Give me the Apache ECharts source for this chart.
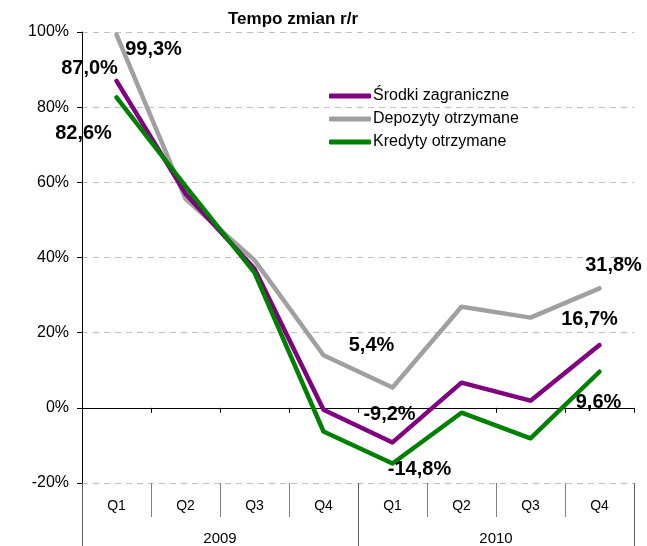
<!DOCTYPE html>
<html>
<head>
<meta charset="utf-8">
<script src="https://cdn.jsdelivr.net/npm/echarts@6/dist/echarts.min.js"></script>
<style>
  html, body { margin: 0; padding: 0; background: #fff; }
  #chart { width: 647px; height: 546px; }
</style>
</head>
<body>
<div id="chart"></div>
<script>
// --- dane ---
const quarters = ['Q1', 'Q2', 'Q3', 'Q4', 'Q1', 'Q2', 'Q3', 'Q4']
const years = ['2009', '2010']
const srodki = [87.0, 57.0, 37.0, -0.5, -9.2, 6.7, 1.9, 16.7]
const depozyty = [99.3, 55.6, 39.3, 14.0, 5.4, 26.9, 24.0, 31.8]
const kredyty = [82.6, 59.0, 36.0, -6.3, -14.8, -1.3, -8.1, 9.6]
const yTicks = [-20, 0, 20, 40, 60, 80, 100]

// --- etykiety punktów: indeks -> przesunięcie [dx, dy] od punktu ---
const srodkiLabels = { 0: [-27, -12], 4: [-3, -28], 7: [-10, -26] }
const depozytyLabels = { 0: [37, 15], 4: [-21, -42], 7: [14, -23] }
const kredytyLabels = { 0: [-33, 36], 4: [27, 6], 7: [-1, 31] }

const fmt = (v) => v.toFixed(1).replace('.', ',') + '%'

const buildData = (values, labels) =>
  values.map((v, i) => {
    if (!labels[i]) return v
    return {
      value: v,
      label: {
        show: true,
        position: 'inside',
        offset: labels[i],
        formatter: () => fmt(v),
        fontFamily: 'Liberation Sans, Arial, sans-serif',
        fontWeight: 'bold',
        fontSize: 20,
        color: '#000',
      },
    }
  })

const makeSeries = (name, values, labels, color, z) => ({
  name,
  type: 'line',
  data: buildData(values, labels),
  symbol: 'circle',
  symbolSize: 1,
  itemStyle: { color },
  lineStyle: { color, width: 4.5, cap: 'round', join: 'round' },
  label: { show: false },
  z,
  animation: false,
})

const chart = echarts.init(document.getElementById('chart'))

const font = 'Liberation Sans, Arial, sans-serif'

chart.setOption({
  animation: false,
  textStyle: { fontFamily: font },
  title: {
    text: 'Tempo zmian r/r',
    left: 288,
    top: 6,
    textAlign: 'center',
    textStyle: { fontFamily: font, fontWeight: 'bold', fontSize: 17, color: '#000' },
  },
  legend: {
    orient: 'vertical',
    left: 324,
    top: 83,
    itemWidth: 42,
    itemHeight: 5,
    itemGap: 7,
    icon: 'roundRect',
    data: ['Środki zagraniczne', 'Depozyty otrzymane', 'Kredyty otrzymane'],
    textStyle: { fontFamily: font, fontSize: 16, color: '#000', padding: [0, 0, 0, -3] },
  },
  grid: { left: 82, right: 13, top: 32, bottom: 63, containLabel: false, outerBoundsMode: 'none' },
  xAxis: [
    {
      type: 'category',
      data: quarters,
      position: 'bottom',
      axisLine: { onZero: true, lineStyle: { color: '#000', width: 1 } },
      axisTick: { show: true, length: 5, interval: 0, lineStyle: { color: '#000' } },
      axisLabel: { show: false },
    },
    {
      type: 'category',
      data: quarters,
      position: 'bottom',
      axisLine: { show: false, onZero: false },
      axisTick: { show: true, length: 34, interval: 0, lineStyle: { color: '#808080' } },
      axisLabel: { show: true, interval: 0, margin: 16, fontSize: 14, color: '#000', fontFamily: font },
    },
    {
      type: 'category',
      data: years,
      position: 'bottom',
      axisLine: { show: false, onZero: false },
      axisTick: { show: true, length: 63, interval: 0, lineStyle: { color: '#606060' } },
      axisLabel: { show: true, interval: 0, margin: 48, fontSize: 15, color: '#000', fontFamily: font },
    },
  ],
  yAxis: {
    type: 'value',
    min: yTicks[0],
    max: yTicks[yTicks.length - 1],
    interval: 20,
    axisLine: { show: true, lineStyle: { color: '#000', width: 1 } },
    axisTick: { show: true, length: 5, lineStyle: { color: '#000' } },
    axisLabel: { formatter: '{value}%', fontSize: 16, color: '#000', margin: 13, fontFamily: font },
    splitLine: { show: true, lineStyle: { color: '#c0c0c0', type: [6, 5], width: 1 } },
  },
  series: [
    makeSeries('Depozyty otrzymane', depozyty, depozytyLabels, '#a0a0a0', 2),
    makeSeries('Środki zagraniczne', srodki, srodkiLabels, '#800080', 3),
    makeSeries('Kredyty otrzymane', kredyty, kredytyLabels, '#008000', 4),
  ],
})
</script>
</body>
</html>
